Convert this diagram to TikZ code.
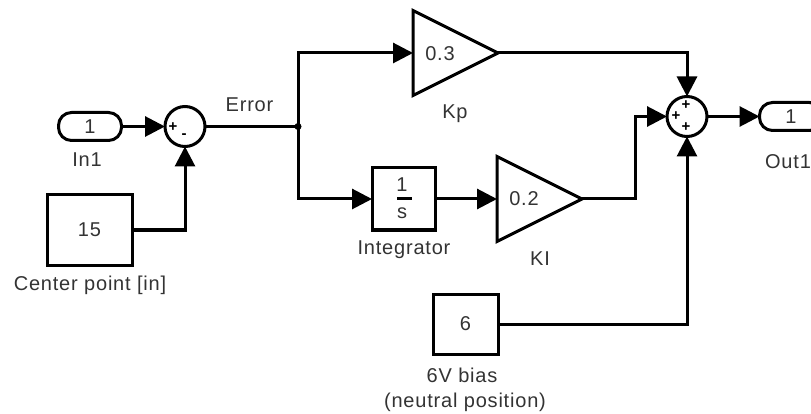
\documentclass[tikz,border=0pt]{standalone}
\usepackage{fontspec}
\setmainfont[LetterSpace=4]{Liberation Sans}
\usetikzlibrary{arrows.meta,shapes.geometric}
\definecolor{txt}{HTML}{333333}
\tikzset{
  x=1pt,y=-1pt,
  block/.style={draw=black,line width=3pt,fill=white,rectangle,inner sep=0pt,outer sep=0pt,minimum width=#1,text=txt,font=\fontsize{20}{22}\selectfont},
  pill/.style={draw=black,line width=3pt,fill=white,rectangle,rounded corners=13pt,inner sep=0pt,outer sep=0pt,minimum height=28pt,minimum width=#1,text=txt,font=\fontsize{20}{22}\selectfont},
  sumblock/.style={draw=black,line width=3pt,fill=white,circle,inner sep=0pt,outer sep=0pt,minimum size=40pt},
  gain/.style={draw=black,line width=3pt,fill=white,isosceles triangle,isosceles triangle apex angle=53.13,isosceles triangle stretches=true,minimum width=85pt,minimum height=85pt,inner sep=0pt,outer sep=0pt,anchor=apex},
  lbl/.style={text=txt,font=\fontsize{20}{22}\selectfont,inner sep=0pt,align=center},
  sgn/.style={text=black,font=\bfseries\fontsize{15}{15}\selectfont,inner sep=0pt},
  wire/.style={line width=3pt,draw=black,line join=miter},
  flow/.style={wire,-{Triangle[length=20pt,width=20pt]}}
}
\begin{document}
\begin{tikzpicture}
\path[fill=white] (0,0) rectangle (811,414);
\clip (0,0) rectangle (811,414);
% blocks
\node[pill=63pt] (in1) at (90,126.5) {1};
\node[sumblock] (sum1) at (185,126.5) {};
\node[block=85pt,minimum height=70pt] (cp) at (89.5,230) {15};
\node[gain] (kp) at (498,53) {};
\node[block=63pt,minimum height=62pt] (int) at (403.5,199) {};
\node[gain] (ki) at (582,199) {};
\node[block=65pt,minimum height=60pt] (bias) at (465.5,324) {6};
\node[sumblock] (sum2) at (687,116.5) {};
\node[pill=63pt] (out1) at (791,116.5) {1};
% block contents
\node[lbl] (kpv) at (440,54) {0.3};
\node[lbl] (kiv) at (524,199) {0.2};
\node[lbl] (ione) at (402,185) {1};
\node[draw=black,fill=black,minimum width=14pt,minimum height=2pt,inner sep=0pt] (ibar) at (404,198.5) {};
\node[lbl] (is) at (402,213) {s};
\node[sgn] (s1a) at (173,127) {+};
\node[sgn] (s1b) at (184,136) {-};
\node[sgn] (s2a) at (686,105) {+};
\node[sgn] (s2b) at (676,116) {+};
\node[sgn] (s2c) at (686,127) {+};
% labels
\node[lbl] (lin1) at (87,160) {In1};
\node[lbl] (lcp) at (90,285) {Center point [in]};
\node[lbl] (lerr) at (249.5,105) {Error};
\node[lbl] (lkp) at (455,114) {Kp};
\node[lbl] (lint) at (404,250) {Integrator};
\node[lbl] (lki) at (540,259) {KI};
\node[lbl] (lbias) at (462,375) {6V bias};
\node[lbl] (lneut) at (465,402) {(neutral position)};
\node[lbl] (lout) at (788,162) {Out1};
% connectors
\coordinate (j) at (298,126.5);
\draw[flow] (in1.east) -- (sum1.west);
\draw[flow] (cp.east) -| (sum1.south);
\draw[wire] (sum1.east) -- (j);
\fill (j) circle (3.5pt);
\draw[flow] (j) |- (kp.lower side);
\draw[flow] (j) |- (int.west);
\draw[flow] (int.east) -- (ki.lower side);
\draw[flow] (kp.apex) -| (sum2.north);
\draw[flow] (ki.apex) -- ++(53,0) |- (sum2.west);
\draw[flow] (bias.east) -| (sum2.south);
\draw[flow] (sum2.east) -- (out1.west);
\end{tikzpicture}
\end{document}
